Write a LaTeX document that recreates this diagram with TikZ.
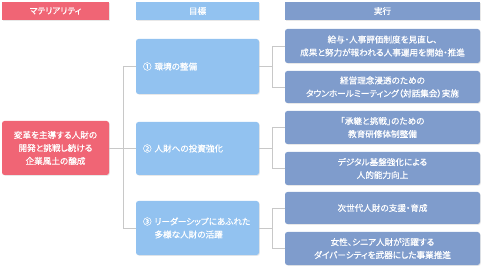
\documentclass[tikz,border=0pt]{standalone}
\usepackage{fontspec}
\setmainfont{Noto Sans CJK JP}[RawFeature=+palt, FakeBold=0.6]
\usetikzlibrary{shadows, calc}

\definecolor{matred}{RGB}{240,101,117}
\definecolor{goalblue}{RGB}{146,194,240}
\definecolor{actblue}{RGB}{127,156,204}
\definecolor{linegray}{RGB}{200,200,200}

\tikzset{
	box/.style={text=white, inner sep=0pt, rounded corners=2.5pt,
		font=\fontsize{8.6}{13}\selectfont,
		drop shadow={opacity=0.18, shadow xshift=0.8pt, shadow yshift=-0.8pt}},
	hdr/.style={box, rounded corners=0pt, minimum height=18pt},
	matbox/.style={box, fill=matred, minimum width=107pt, minimum height=54pt, align=center},
	goalbox/.style={box, fill=goalblue, text width=109pt, inner xsep=7pt, minimum height=54pt, align=left},
	actbox/.style={box, fill=actblue, minimum width=195pt, minimum height=33pt, align=center},
	link/.style={draw=linegray, line width=0.8pt}
}

\begin{document}
\begin{tikzpicture}[x=1pt, y=-1pt]
	\useasboundingbox (0,0) rectangle (484,272);
	% headers
	\node[hdr, fill=matred, minimum width=107pt] (hm) at (55.5,11) {マテリアリティ};
	\node[hdr, fill=goalblue, minimum width=123pt] (hg) at (197.5,11) {目標};
	\node[hdr, fill=actblue, minimum width=195pt] (ha) at (382.5,11) {実行};
	% materiality
	\node[matbox] (m) at (55.5,148) {変革を主導する人財の\\開発と挑戦し続ける\\企業風土の醸成};
	% goals
	\node[goalbox, minimum height=55pt] (g1) at (197.5,66.5) {①~環境の整備};
	\node[goalbox, minimum height=53pt] (g2) at (197.5,148.5) {②~人財への投資強化};
	\node[goalbox] (g3) at (197.5,228) {③~リーダーシップにあふれた\\\phantom{③~}多様な人財の活躍};
	% actions
	\node[actbox, minimum height=34pt] (a1) at (382.5,46) {給与・人事評価制度を見直し、\\成果と努力が報われる人事運用を開始・推進};
	\node[actbox, minimum height=32pt] (a2) at (382.5,87) {経営理念浸透のための\\タウンホールミーティング（対話集会）実施};
	\node[actbox] (a3) at (382.5,127.5) {「承継と挑戦」のための\\教育研修体制整備};
	\node[actbox] (a4) at (382.5,168.5) {デジタル基盤強化による\\人的能力向上};
	\node[actbox, minimum height=32pt] (a5) at (382.5,208) {次世代人財の支援・育成};
	\node[actbox] (a6) at (382.5,248.5) {女性、シニア人財が活躍する\\ダイバーシティを武器にした事業推進};
	% connectors
	\coordinate (t0) at (123,0);
	\draw[link] (m.east) -- (m.east -| t0);
	\draw[link] (g1.west) -| (t0 |- g3.west) -- (g3.west);
	\draw[link] (t0 |- g2.west) -- (g2.west);
	\foreach \g/\p/\q in {g1/a1/a2, g2/a3/a4, g3/a5/a6} {
		\coordinate (t) at ($(\g.east)+(13,0)$);
		\draw[link] (\g.east) -- (t |- \g.east);
		\draw[link] (\p.west) -| (t |- \q.west) -- (\q.west);
	}
\end{tikzpicture}
\end{document}
